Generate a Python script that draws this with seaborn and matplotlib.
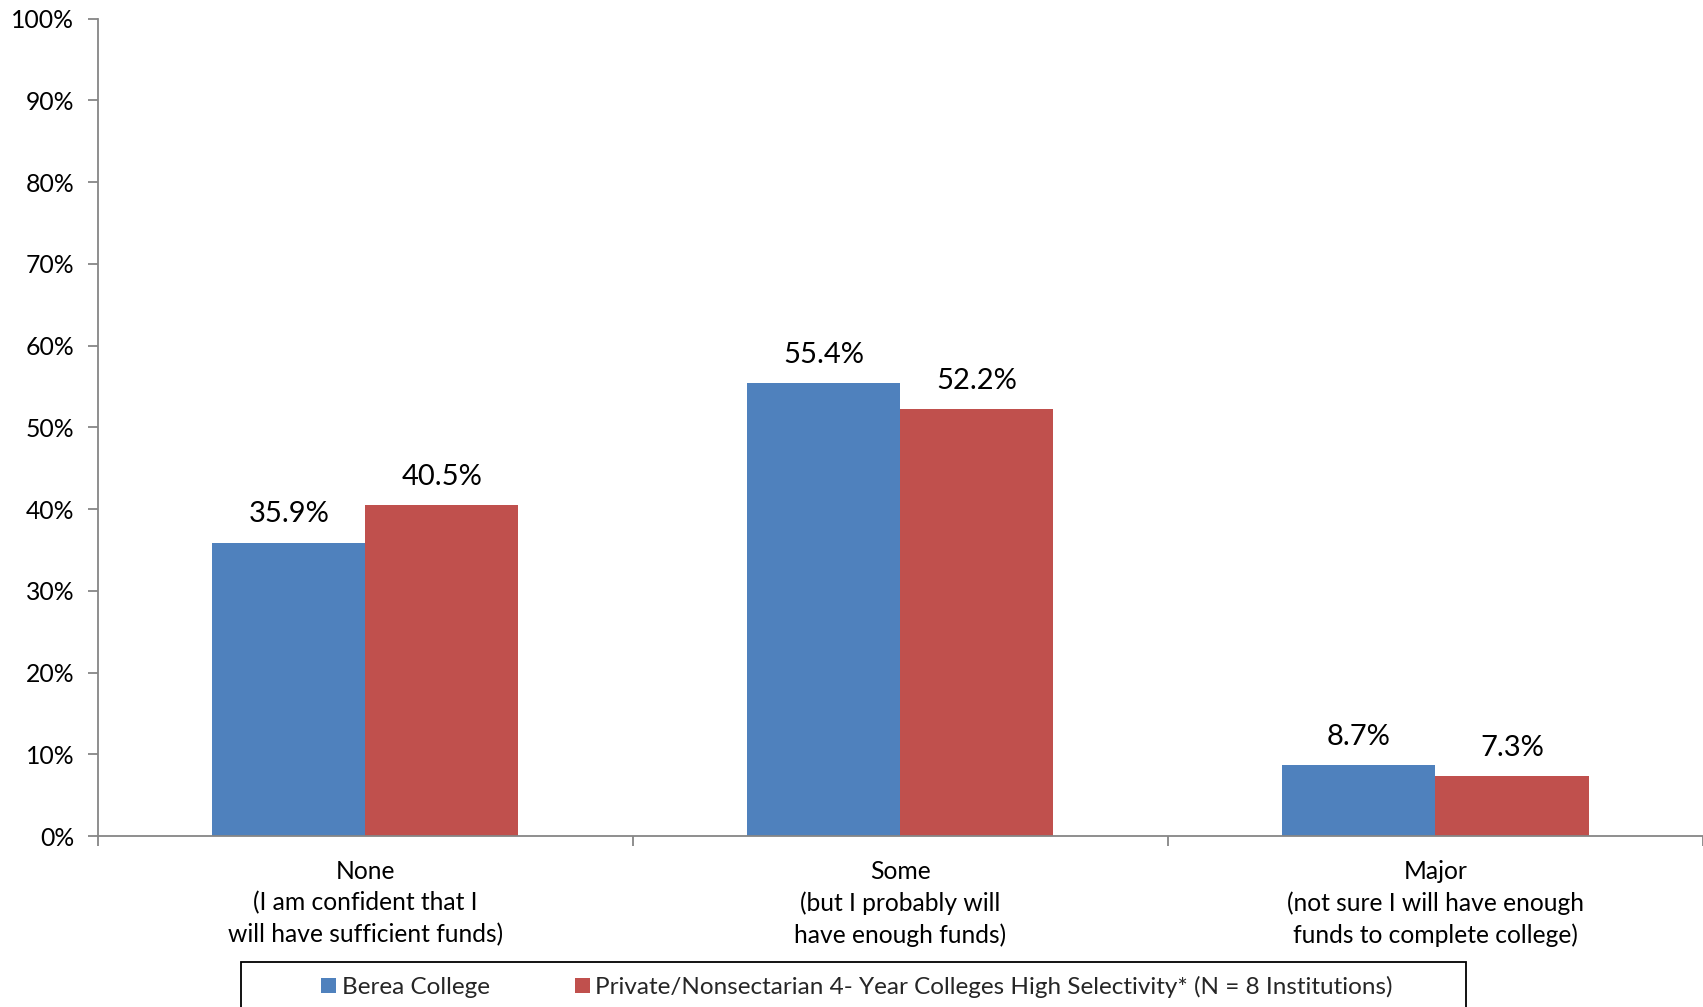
import matplotlib
matplotlib.use("Agg")
import matplotlib.pyplot as plt
from matplotlib.patches import Patch, Rectangle
from matplotlib.ticker import FixedLocator, FuncFormatter
import pandas as pd
import seaborn as sns

categories = [
    "None\n(I am confident that I\nwill have sufficient funds)",
    "Some\n(but I probably will\nhave enough funds)",
    "Major\n(not sure I will have enough\nfunds to complete college)",
]
series_names = [
    "Berea College",
    "Private/Nonsectarian 4- Year Colleges High Selectivity* (N = 8 Institutions)",
]
berea_values = [35.9, 55.4, 8.7]
peer_values = [40.5, 52.2, 7.3]
colors = ["#4F81BD", "#C0504D"]

df = pd.DataFrame({
    "category": categories * 2,
    "series": [series_names[0]] * 3 + [series_names[1]] * 3,
    "value": berea_values + peer_values,
})

sns.set_theme(style="white")
plt.rcParams["font.family"] = ["Lato", "DejaVu Sans"]

fig = plt.figure(figsize=(17.03, 10.07), dpi=100)
ax = fig.add_axes([0.0575, 0.1698, 0.9425, 0.8118])

sns.barplot(data=df, x="category", y="value", hue="series", order=categories,
            hue_order=series_names, palette=colors, width=0.572, gap=0,
            saturation=1, edgecolor="none", legend=False, ax=ax)

ax.set_xlim(-0.5, 2.5)
ax.set_ylim(0, 100)
ax.set_xlabel("")
ax.set_ylabel("")

# value labels on top of each bar
for cont, vals in zip(ax.containers, [berea_values, peer_values]):
    ax.bar_label(cont, labels=[f"{v:.1f}%" for v in vals], padding=11,
                 fontsize=21, color="black")

# y axis: percentages with outward ticks
ax.yaxis.set_major_locator(FixedLocator(range(0, 101, 10)))
ax.yaxis.set_major_formatter(FuncFormatter(lambda v, p: f"{int(v)}%"))
ax.tick_params(axis="y", which="major", left=True, length=7, width=1.3,
               color="#868686", labelsize=17.8, pad=10, labelcolor="black")

# x axis: category labels centered, ticks at category boundaries
ax.set_xticks(range(3))
ax.set_xticklabels(categories, linespacing=1.45)
ax.set_xticks([-0.5, 0.5, 1.5, 2.5], minor=True)
ax.tick_params(axis="x", which="major", length=0, labelsize=17.7, pad=17,
               labelcolor="black")
ax.tick_params(axis="x", which="minor", bottom=True, length=7, width=1.3,
               color="#868686")

for side in ["top", "right"]:
    ax.spines[side].set_visible(False)
for side in ["left", "bottom"]:
    ax.spines[side].set_color("#868686")
    ax.spines[side].set_linewidth(1.3)

# legend inside a boxed frame along the bottom edge
box_left, box_right = 241 / 1703, 1466 / 1703
box_top = 1 - 962 / 1007
fig.add_artist(Rectangle((box_left, box_top - 0.06), box_right - box_left, 0.06,
                         transform=fig.transFigure, fill=False,
                         edgecolor="black", linewidth=1.3, clip_on=False))
handles = [Patch(facecolor=c, edgecolor="none") for c in colors]
fig.legend(handles, series_names, loc="center",
           bbox_to_anchor=((box_left + box_right) / 2 + 0.002, 1 - 987 / 1007),
           ncol=2, frameon=False, fontsize=17.5, handlelength=0.63,
           handleheight=0.63, handletextpad=0.22, columnspacing=3.5)

fig.savefig("out.png", dpi=100)
